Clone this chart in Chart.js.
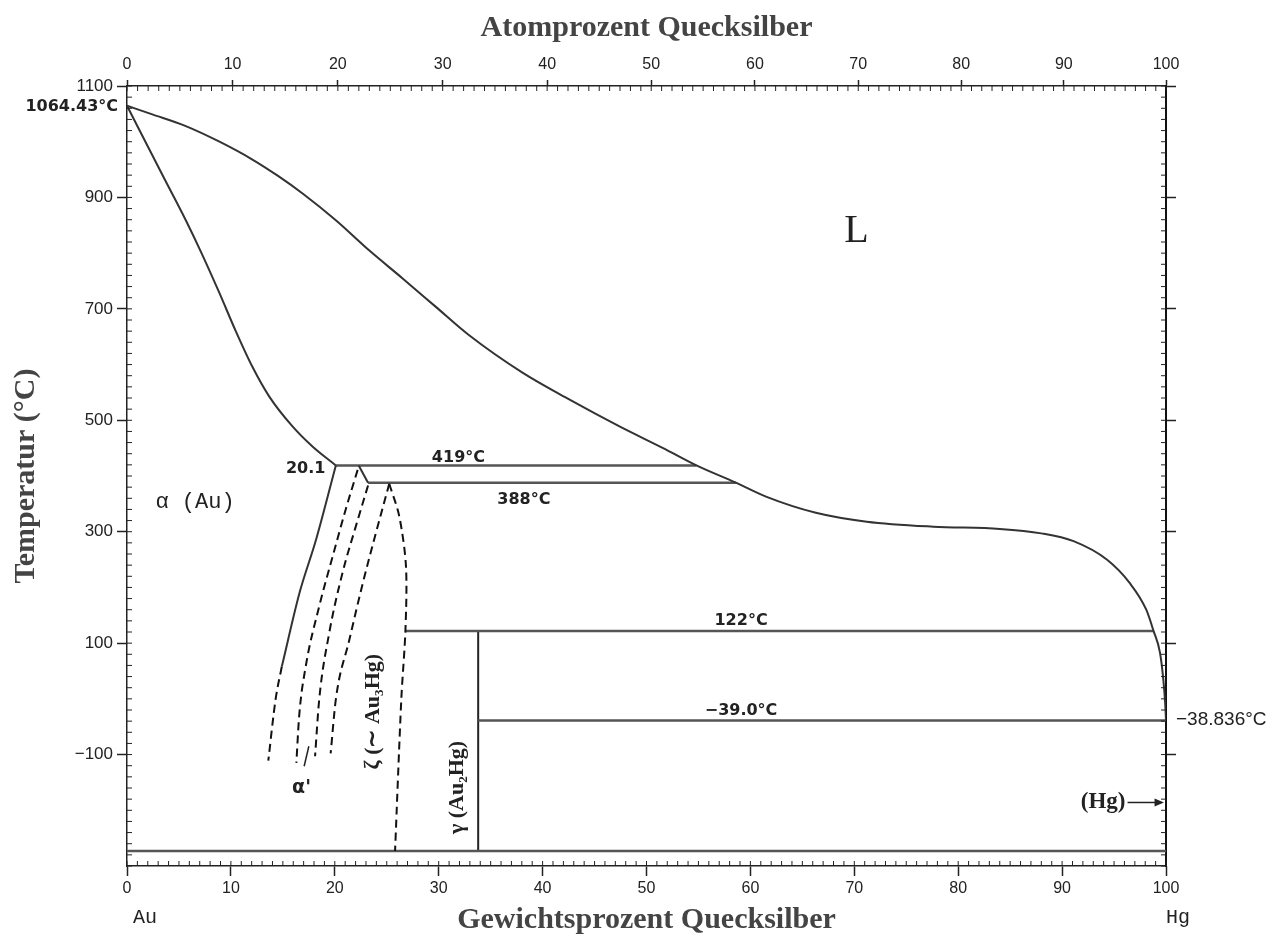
<!DOCTYPE html>
<html>
<head>
<meta charset="utf-8">
<script src="https://cdn.jsdelivr.net/npm/chart.js@4.4.1/dist/chart.umd.min.js"></script>
<style>
  html, body { margin: 0; padding: 0; background: #fff; }
</style>
</head>
<body>
<canvas id="phaseChart" width="1284" height="946"></canvas>
<script>
// Au-Hg phase diagram, x = wt% Hg, y = temperature in °C
const liquidusWt = [0, 2.44, 5.66, 8.9, 12.07, 14.5, 16.9, 20.1, 23.3, 26.5, 29.7, 32.9, 38.1, 42.6, 47.4, 51.6, 54.8, 58.6, 61.5, 66.3, 71.2, 77.6, 84.0, 88.0, 91.1, 94.3, 96.5, 98.1, 98.8, 99.42, 99.74, 99.92, 100];
const liquidusT  = [1064.43, 1049, 1028, 1000, 968, 939, 907, 859, 805, 755, 704, 653, 585, 537, 489, 450, 419, 388, 363, 334, 318, 309, 305, 297, 283, 250, 208, 160, 122, 83, 35, -8, -38.836];

const solidusWt = [0, 3.5, 5.66, 7.25, 8.86, 10.47, 12.07, 13.68, 15.93, 17.85, 20.1];
const solidusT  = [1064.43, 937, 859, 797, 730, 660, 596, 543, 489, 453, 419];

const solvusWt = [20.1, 18.2, 16.6, 14.9];
const solvusT  = [419, 286, 190, 58];
const solvusDashWt = [14.9, 14.3, 13.6];
const solvusDashT  = [58, -1, -111];

const zetaEdgeWt = [22.3, 23.2];
const zetaEdgeT  = [419, 388];

const dash1Wt = [22.2, 21.05, 19.8, 18.5, 17.2, 16.57, 16.3];
const dash1T  = [411, 340, 256, 166, 58, -31, -115];
const dash2Wt = [23.2, 22.03, 20.74, 19.46, 18.5, 18.1];
const dash2T  = [383, 310, 226, 118, -1, -103];
const dash3Wt = [25.24, 23.96, 22.7, 21.4, 20.1, 19.6];
const dash3T  = [386, 298, 208, 106, -1, -98];
const dash4Wt = [25.24, 26.2, 26.85, 26.8, 26.4, 25.8];
const dash4T  = [386, 328, 238, 124, -1, -273];

const iso419Wt = [20.1, 54.8], iso419T = [419, 419];
const iso388Wt = [23.2, 58.6], iso388T = [388, 388];
const iso122Wt = [26.8, 98.8], iso122T = [122, 122];
const iso39Wt  = [33.8, 100],  iso39T  = [-39, -39];
const baseWt   = [0, 100],     baseT   = [-273, -273];
const gammaWt  = [33.8, 33.8], gammaT  = [122, -273];

const wtLabels = [0, 10, 20, 30, 40, 50, 60, 70, 80, 90, 100];
const atLabels = [0, 10, 20, 30, 40, 50, 60, 70, 80, 90, 100];
const tempLabels = [-100, 100, 300, 500, 700, 900, 1100];

// atomic % -> weight % (Au 196.97, Hg 200.59)
function atToWt(a) {
  return a * 200.59 / (a * 200.59 + (100 - a) * 196.97) * 100;
}

function pts(xs, ys) {
  return xs.map((v, i) => ({ x: v, y: ys[i] }));
}

function curve(xs, ys, opts) {
  return Object.assign({
    data: pts(xs, ys),
    showLine: true,
    pointRadius: 0,
    borderColor: '#333',
    borderWidth: 2,
    cubicInterpolationMode: 'monotone',
    fill: false
  }, opts || {});
}

const straight = { tension: 0, cubicInterpolationMode: 'default', borderColor: '#555', borderWidth: 2.5 };
const dashed = { borderDash: [8, 5], borderColor: '#111', borderWidth: 2 };

const annotate = {
  id: 'annotate',
  beforeDraw(chart) {
    const ctx = chart.ctx;
    ctx.save();
    ctx.fillStyle = '#fff';
    ctx.fillRect(0, 0, chart.width, chart.height);
    ctx.restore();
  },
  afterDraw(chart) {
    const { ctx, chartArea: a, scales } = chart;
    const x = scales.x, y = scales.y, x2 = scales.x2;
    const X = v => x.getPixelForValue(v);
    const Y = v => y.getPixelForValue(v);
    ctx.save();

    // small inward ticks
    ctx.strokeStyle = '#222';
    ctx.lineWidth = 1;
    ctx.beginPath();
    for (let v = 0; v <= 100; v++) {
      const px = X(v);
      ctx.moveTo(px, a.bottom); ctx.lineTo(px, a.bottom - 5);
      const pt = x2.getPixelForValue(atToWt(v));
      ctx.moveTo(pt, a.top); ctx.lineTo(pt, a.top + 5);
    }
    for (let t = -300; t <= 1100; t += 20) {
      const py = Y(t);
      ctx.moveTo(a.left, py); ctx.lineTo(a.left + 5, py);
      ctx.moveTo(a.right, py); ctx.lineTo(a.right - 5, py);
    }
    ctx.stroke();

    ctx.fillStyle = '#222';
    ctx.textBaseline = 'middle';

    function text(str, px, py, font, align) {
      ctx.font = font;
      ctx.textAlign = align || 'center';
      ctx.fillText(str, px, py);
    }
    const boldSans = 'bold 16px "DejaVu Sans"';

    text('1064.43°C', a.left - 9, Y(1064.43) + 1, boldSans, 'right');
    text('L', X(70.2), Y(838), '40px "Liberation Serif"');
    text('α (Au)', X(6.55), Y(353), '22px "Liberation Mono"');
    text('20.1', X(19.1), Y(412), boldSans, 'right');
    text('419°C', X(31.9), Y(433), boldSans);
    text('388°C', X(38.2), Y(357), boldSans);
    text('122°C', X(59.1), Y(140), boldSans);
    text('−39.0°C', X(59.1), Y(-22), boldSans);
    text('−38.836°C', a.right + 10, Y(-37), '19px "Liberation Sans"', 'left');
    text('(Hg)', X(96.1), Y(-186), 'bold 23px "Liberation Serif"', 'right');
    text('α\'', X(16.8), Y(-161), 'bold 19px "DejaVu Sans"');

    // (Hg) arrow
    ctx.strokeStyle = '#222';
    ctx.lineWidth = 1.5;
    ctx.beginPath();
    ctx.moveTo(X(96.3), Y(-186)); ctx.lineTo(X(99.1), Y(-186));
    ctx.stroke();
    ctx.beginPath();
    ctx.moveTo(X(99.8), Y(-186));
    ctx.lineTo(X(98.9), Y(-186) - 4);
    ctx.lineTo(X(98.9), Y(-186) + 4);
    ctx.closePath();
    ctx.fill();

    // alpha' pointer
    ctx.beginPath();
    ctx.moveTo(X(17.05), Y(-121)); ctx.lineTo(X(17.5), Y(-85));
    ctx.stroke();

    // rotated phase names
    function vtext(str, px, py, font) {
      ctx.save();
      ctx.translate(px, py);
      ctx.rotate(-Math.PI / 2);
      ctx.font = font;
      ctx.textAlign = 'center';
      ctx.fillText(str, 0, 0);
      ctx.restore();
    }
    vtext('ζ (∼ Au₃Hg)', X(23.7), Y(-23), 'bold 22px "Liberation Serif"');
    vtext('γ (Au₂Hg)', X(31.8), Y(-159), 'bold 22px "Liberation Serif"');

    // element names under the axis
    text('Au', X(0) + 6, a.bottom + 52, '20px "Liberation Mono"', 'left');
    text('Hg', X(100), a.bottom + 52, '20px "Liberation Mono"', 'left');

    ctx.restore();
  }
};

const tickFont = { family: 'Liberation Sans', size: 16 };
const titleFont = { family: 'Liberation Serif', size: 30, weight: 'bold' };
const signed = v => (v < 0 ? '−' + Math.abs(v) : String(v));

new Chart(document.getElementById('phaseChart'), {
  type: 'scatter',
  data: {
    datasets: [
      curve(liquidusWt, liquidusT),
      curve(solidusWt, solidusT),
      curve(solvusWt, solvusT),
      curve(solvusDashWt, solvusDashT, dashed),
      curve(zetaEdgeWt, zetaEdgeT, { tension: 0, cubicInterpolationMode: 'default' }),
      curve(dash1Wt, dash1T, dashed),
      curve(dash2Wt, dash2T, dashed),
      curve(dash3Wt, dash3T, dashed),
      curve(dash4Wt, dash4T, Object.assign({ cubicInterpolationMode: 'default', tension: 0.3 }, dashed)),
      curve(iso419Wt, iso419T, straight),
      curve(iso388Wt, iso388T, straight),
      curve(iso122Wt, iso122T, straight),
      curve(iso39Wt, iso39T, straight),
      curve(baseWt, baseT, straight),
      curve(gammaWt, gammaT, { tension: 0, cubicInterpolationMode: 'default', borderColor: '#222', borderWidth: 2 })
    ]
  },
  options: {
    responsive: false,
    animation: false,
    layout: { padding: 0 },
    plugins: {
      legend: { display: false },
      tooltip: { enabled: false }
    },
    scales: {
      x: {
        type: 'linear',
        position: 'bottom',
        min: 0,
        max: 100,
        afterBuildTicks: s => { s.ticks = wtLabels.map(v => ({ value: v })); },
        ticks: { color: '#222', font: tickFont, padding: 3, maxRotation: 0, callback: v => String(v) },
        grid: { drawOnChartArea: false, tickLength: 10, tickColor: '#222', tickWidth: 1.5 },
        border: { color: '#222', width: 1.5 },
        title: { display: true, text: 'Gewichtsprozent Quecksilber', color: '#444', font: titleFont, padding: { top: 0, bottom: 8 } },
        afterFit: s => { s.height = 80; }
      },
      x2: {
        type: 'linear',
        position: 'top',
        min: 0,
        max: 100,
        afterBuildTicks: s => { s.ticks = atLabels.map(v => ({ value: atToWt(v) })); },
        ticks: { color: '#222', font: tickFont, padding: 6, maxRotation: 0, callback: (v, i) => String(atLabels[i]) },
        grid: { drawOnChartArea: false, tickLength: 6, tickColor: '#222', tickWidth: 1.5 },
        border: { color: '#222', width: 1.5 },
        title: { display: true, text: 'Atomprozent Quecksilber', color: '#444', font: titleFont, padding: { top: 10, bottom: 0 } },
        afterFit: s => { s.height = 86; }
      },
      y: {
        type: 'linear',
        position: 'left',
        min: -300,
        max: 1100,
        afterBuildTicks: s => { s.ticks = tempLabels.map(v => ({ value: v })); },
        ticks: { color: '#222', font: { family: 'Liberation Sans', size: 17 }, padding: 4, callback: signed },
        grid: { drawOnChartArea: false, tickLength: 10, tickColor: '#222', tickWidth: 1.5 },
        border: { color: '#222', width: 1.5 },
        title: { display: true, text: 'Temperatur (°C)', color: '#444', font: titleFont, padding: { top: 8, bottom: 0 } },
        afterFit: s => { s.width = 127; }
      },
      y2: {
        type: 'linear',
        position: 'right',
        min: -300,
        max: 1100,
        afterBuildTicks: s => { s.ticks = tempLabels.map(v => ({ value: v })); },
        ticks: { callback: () => '' },
        grid: { drawOnChartArea: false, tickLength: 10, tickColor: '#222', tickWidth: 1.5 },
        border: { color: '#111', width: 2 },
        afterFit: s => { s.width = 118; }
      }
    }
  },
  plugins: [annotate]
});
</script>
</body>
</html>
